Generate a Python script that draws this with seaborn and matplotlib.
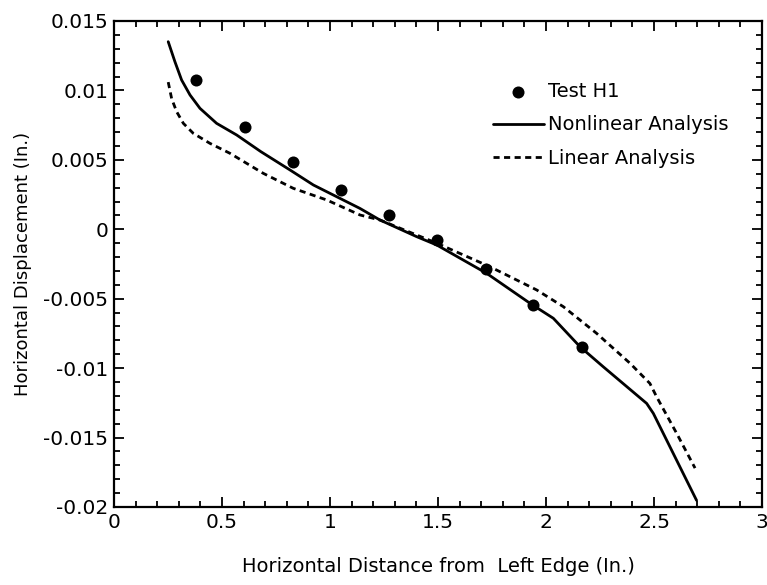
import numpy as np
import pandas as pd
import matplotlib
matplotlib.use("Agg")
import matplotlib.pyplot as plt
from matplotlib.ticker import MultipleLocator
import seaborn as sns

# --- data ---
test_x = [0.380, 0.606, 0.827, 1.051, 1.275, 1.496, 1.721, 1.940, 2.166]
test_y = [0.01072, 0.00739, 0.00487, 0.00283, 0.00104, -0.0008, -0.00286, -0.00543, -0.00849]

nonlin_x = [0.251, 0.282, 0.313, 0.352, 0.398, 0.475, 0.568, 0.68, 0.815, 0.923, 1.139, 1.231,
            1.401, 1.494, 1.725, 1.926, 2.034, 2.157, 2.265, 2.466, 2.497, 2.697]
nonlin_y = [0.01351, 0.01207, 0.01075, 0.00967, 0.00871, 0.00763, 0.00679, 0.00559, 0.00427,
            0.00319, 0.0015, 0.00067, -0.00053, -0.00113, -0.00317, -0.00533, -0.00641,
            -0.00845, -0.0099, -0.01254, -0.01326, -0.01952]

lin_x = [0.251, 0.267, 0.29, 0.321, 0.367, 0.444, 0.537, 0.691, 0.83, 0.985, 1.139, 1.231,
         1.494, 1.741, 1.957, 2.08, 2.234, 2.389, 2.481, 2.512, 2.605, 2.69]
lin_y = [0.0106, 0.0094, 0.00847, 0.00763, 0.00691, 0.00619, 0.00547, 0.00403, 0.00295,
         0.00211, 0.00103, 0.00067, -0.001, -0.0027, -0.00437, -0.00557, -0.00749, -0.00965,
         -0.0111, -0.01206, -0.0147, -0.0172]

x_ticks = [0, 0.5, 1, 1.5, 2, 2.5, 3]
x_tick_labels = ["0", "0.5", "1", "1.5", "2", "2.5", "3"]
y_ticks = [0.015, 0.01, 0.005, 0, -0.005, -0.01, -0.015, -0.02]
y_tick_labels = ["0.015", "0.01", "0.005", "0", "-0.005", "-0.01", "-0.015", "-0.02"]

labels = ["Test H1", "Nonlinear Analysis", "Linear Analysis"]
xlabel = "Horizontal Distance from  Left Edge (In.)"
ylabel = "Horizontal Displacement (In.)"

sns.set_style("ticks")
plt.rcParams["font.family"] = ["DejaVu Sans"]
plt.rcParams["text.color"] = "black"
plt.rcParams["axes.labelcolor"] = "black"

fig = plt.figure(figsize=(7.67, 5.85), dpi=100)
ax = fig.add_axes([114 / 767, 1 - 507 / 585, 648 / 767, 486 / 585])

df_t = pd.DataFrame({"x": test_x, "y": test_y})
df_n = pd.DataFrame({"x": nonlin_x, "y": nonlin_y})
df_l = pd.DataFrame({"x": lin_x, "y": lin_y})

sns.lineplot(data=df_n, x="x", y="y", ax=ax, color="black", linewidth=2.0,
             label=labels[1], sort=False)
sns.lineplot(data=df_l, x="x", y="y", ax=ax, color="black", linewidth=2.0,
             linestyle=(0, (2.2, 1.6)), label=labels[2], sort=False)
sns.scatterplot(data=df_t, x="x", y="y", ax=ax, color="black", s=75,
                edgecolor="black", linewidth=0, label=labels[0], zorder=5)

ax.set_xlim(0, 3)
ax.set_ylim(-0.02, 0.015)
ax.set_xticks(x_ticks)
ax.set_xticklabels(x_tick_labels)
ax.set_yticks(y_ticks)
ax.set_yticklabels(y_tick_labels)
ax.xaxis.set_minor_locator(MultipleLocator(0.1))
ax.yaxis.set_minor_locator(MultipleLocator(0.001))
ax.tick_params(which="both", direction="in", top=True, right=True, width=1.3,
               labelsize=14.5, colors="black", pad=4)
ax.tick_params(which="major", length=7)
ax.tick_params(which="minor", length=4)
for sp in ax.spines.values():
    sp.set_linewidth(1.6)
    sp.set_color("black")

ax.set_xlabel(xlabel, fontsize=14, labelpad=18, color="black")
ax.set_ylabel(ylabel, fontsize=13, labelpad=8, color="black")

h, l = ax.get_legend_handles_labels()
order = [l.index(lb) for lb in labels]
leg = ax.legend([h[i] for i in order], [l[i] for i in order], loc="upper left",
                bbox_to_anchor=(0.585, 0.875), frameon=False, fontsize=14,
                handlelength=2.6, handletextpad=0.2, labelspacing=0.75, borderpad=0,
                borderaxespad=0)
for t in leg.get_texts():
    t.set_color("black")

fig.savefig("out.png", dpi=100)
